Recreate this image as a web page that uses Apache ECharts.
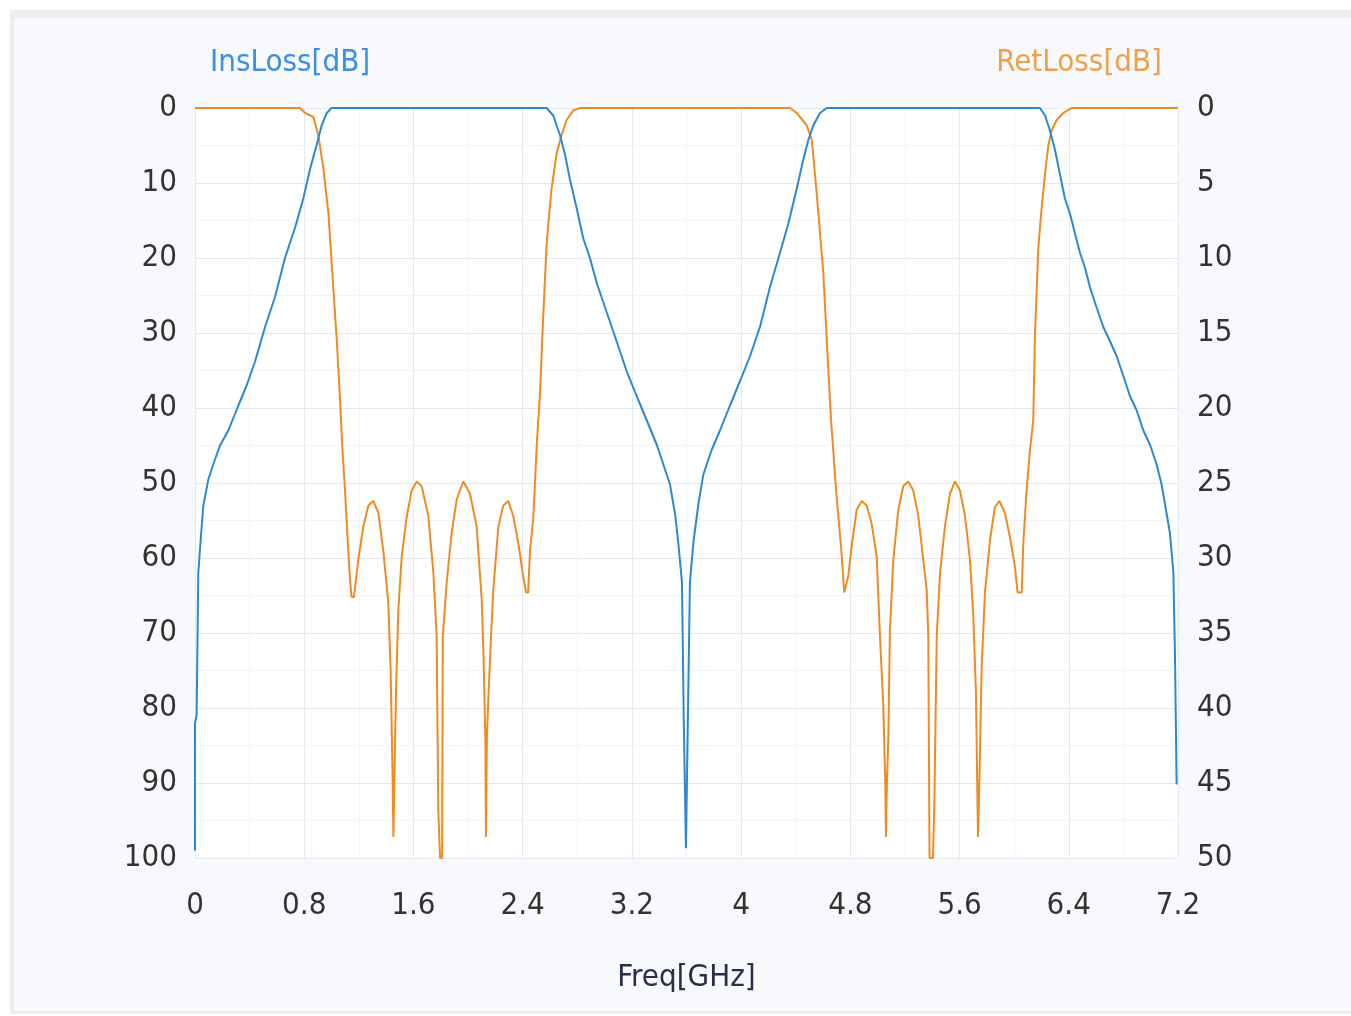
<!DOCTYPE html>
<html>
<head>
<meta charset="utf-8">
<script src="https://cdn.jsdelivr.net/npm/echarts@6/dist/echarts.min.js"></script>
<style>
html,body{margin:0;padding:0;background:#ffffff;}
#chart{width:1351px;height:1016px;}
</style>
</head>
<body>
<div id="chart"></div>
<script>
// Frequency axis ticks (GHz)
const xTicks = [0, 0.8, 1.6, 2.4, 3.2, 4, 4.8, 5.6, 6.4, 7.2];

// Insertion loss (left axis, dB)
const ilFreq = [0, 0, 0.012, 0.024, 0.044, 0.061, 0.098, 0.134, 0.183, 0.244, 0.317, 0.378, 0.44, 0.513, 0.586, 0.659, 0.732, 0.793, 0.842, 0.891, 0.928, 0.964, 1.0,
  2.576, 2.624, 2.673, 2.71, 2.746, 2.796, 2.844, 2.893, 2.942, 3.015, 3.088, 3.162, 3.235, 3.308, 3.382, 3.43, 3.479, 3.516, 3.54, 3.567, 3.58, 3.596, 3.61, 3.625, 3.65, 3.687, 3.723, 3.784, 3.845, 3.918, 3.992, 4.065, 4.138, 4.211, 4.285, 4.346, 4.407, 4.455, 4.492, 4.529, 4.578, 4.627,
  6.189, 6.226, 6.262, 6.299, 6.336, 6.372, 6.409, 6.445, 6.482, 6.519, 6.555, 6.604, 6.653, 6.702, 6.751, 6.799, 6.848, 6.897, 6.946, 6.995, 7.043, 7.08, 7.117, 7.141, 7.166, 7.178, 7.19];
const ilVals = [99, 82, 81, 62, 57, 53, 49.5, 47.5, 45, 43, 39.7, 37, 33.8, 29.2, 25.2, 20, 16, 12.1, 8.2, 4.9, 2.3, 0.7, 0,
  0, 1, 3.6, 6.2, 9.5, 13.4, 17.4, 20, 23.3, 27.2, 31.1, 35.1, 38.4, 41.6, 44.9, 47.5, 50.2, 54.1, 58, 63.3, 81.6, 98.7, 81.6, 63.3, 58, 52.8, 48.9, 45.6, 43, 39.7, 36.4, 33.1, 29.2, 23.9, 19.3, 15.4, 10.8, 6.9, 4.3, 2.3, 0.66, 0,
  0, 1, 3, 5.6, 8.9, 12.1, 14.1, 16.7, 19.3, 21.3, 23.9, 26.6, 29.2, 31.1, 33.1, 35.7, 38.4, 40.3, 43, 44.9, 47.5, 50.2, 54.1, 56.7, 61.9, 73.1, 90.2];

// Return loss (right axis, dB)
const rlFreq = [0, 0.77, 0.806, 0.867, 0.903, 0.94, 0.977, 1.013, 1.038, 1.062, 1.08, 1.099, 1.115, 1.135, 1.147, 1.164, 1.196, 1.233, 1.27, 1.306, 1.343, 1.379, 1.416, 1.433, 1.448, 1.453, 1.46, 1.472, 1.489, 1.514, 1.55, 1.587, 1.624, 1.66, 1.709, 1.746, 1.77, 1.782, 1.795, 1.81, 1.815, 1.843, 1.88, 1.917, 1.965, 2.014, 2.063, 2.1, 2.112, 2.127, 2.131, 2.138, 2.148, 2.166, 2.185, 2.222, 2.258, 2.295, 2.331, 2.368, 2.405, 2.425, 2.44, 2.454, 2.478, 2.503, 2.527, 2.55, 2.576, 2.61, 2.649, 2.686, 2.722, 2.771, 2.82,
  4.358, 4.407, 4.48, 4.517, 4.541, 4.566, 4.602, 4.639, 4.66, 4.675, 4.688, 4.712, 4.736, 4.755, 4.767, 4.785, 4.81, 4.846, 4.883, 4.92, 4.956, 4.993, 5.017, 5.041, 5.056, 5.061, 5.068, 5.078, 5.09, 5.115, 5.151, 5.188, 5.224, 5.261, 5.298, 5.334, 5.359, 5.371, 5.38, 5.405, 5.415, 5.433, 5.457, 5.493, 5.53, 5.567, 5.603, 5.64, 5.676, 5.701, 5.72, 5.735, 5.745, 5.762, 5.786, 5.823, 5.859, 5.891, 5.933, 5.969, 6.006, 6.025, 6.055, 6.067, 6.091, 6.116, 6.14, 6.152, 6.177, 6.201, 6.226, 6.25, 6.274, 6.311, 6.36, 6.421, 7.2];
const rlVals = [0, 0, 0.33, 0.6, 1.8, 4, 7, 12, 15.4, 19.4, 22.8, 25.5, 28.3, 31.4, 32.6, 32.6, 30.1, 27.9, 26.5, 26.2, 27, 29.5, 33, 37.5, 45, 48.6, 45, 39, 33.5, 29.9, 27.3, 25.5, 24.9, 25.2, 27.2, 31, 35.2, 46.8, 50, 50, 35.2, 31.7, 28.3, 26.1, 24.9, 25.7, 27.9, 32.8, 36.1, 42.1, 48.6, 42, 39.5, 35.7, 32.1, 27.9, 26.5, 26.2, 27.2, 29, 31.3, 32.3, 32.3, 29.5, 27.3, 22.5, 19, 14, 9, 5.5, 3, 1.8, 0.8, 0.16, 0,
  0, 0.33, 1.15, 2.1, 4.4, 7, 11, 17.5, 21, 22.8, 24.6, 27.2, 29.7, 32.3, 32.3, 31.2, 29.2, 26.8, 26.2, 26.5, 27.7, 29.9, 35.2, 39.7, 45, 48.6, 45, 42.1, 34.8, 30.1, 26.8, 25.2, 24.9, 25.5, 27.2, 30.1, 32.1, 35.2, 50, 50, 46.6, 35.2, 31, 27.9, 25.7, 24.9, 25.5, 27.2, 30.1, 33.9, 39, 48.6, 45, 37.2, 32.3, 28.8, 26.6, 26.2, 27, 28.6, 30.6, 32.3, 32.3, 29, 25.5, 22.8, 20.8, 15.2, 9.3, 6.7, 4.4, 2.5, 1.5, 0.8, 0.33, 0, 0];

const seriesNames = ['InsLoss[dB]', 'RetLoss[dB]'];
const xName = 'Freq[GHz]';

const ilData = ilFreq.map((f, i) => [f, ilVals[i]]);
const rlData = rlFreq.map((f, i) => [f, rlVals[i]]);

const FONT = "'DejaVu Sans Condensed', 'DejaVu Sans', sans-serif";
const BLUE = '#2f87d0';
const ORANGE = '#ee8c22';

const chart = echarts.init(document.getElementById('chart'), null, {renderer: 'canvas'});
chart.setOption({
  animation: false,
  backgroundColor: '#ffffff',
  graphic: [
    {type: 'rect', z: -10, shape: {x: 10, y: 10, width: 1345, height: 1004}, style: {fill: '#eceef1'}},
    {type: 'rect', z: -9, shape: {x: 14, y: 18, width: 1340, height: 993}, style: {fill: '#f7f9fc'}}
  ],
  grid: {left: 195, right: 173, top: 108, bottom: 158, show: true, backgroundColor: '#ffffff', borderWidth: 0},
  xAxis: {
    type: 'value', min: 0, max: 7.2, interval: 0.8,
    name: xName, nameLocation: 'middle', nameGap: 120,
    nameTextStyle: {fontFamily: FONT, fontSize: 31, color: '#2b2d4a', verticalAlign: 'middle'},
    axisLine: {show: false}, axisTick: {show: false},
    axisLabel: {margin: 32, fontFamily: FONT, fontSize: 31, color: '#333333',
      formatter: v => { const t = xTicks.find(x => Math.abs(x - v) < 1e-6); return t === undefined ? '' : String(t); }},
    splitLine: {show: true, lineStyle: {color: '#e3e9f1', width: 1}},
    minorTick: {show: false, splitNumber: 2},
    minorSplitLine: {show: true, lineStyle: {color: '#f1f4f8', width: 1}}
  },
  yAxis: [
    {
      type: 'value', min: 0, max: 100, interval: 10, inverse: true, position: 'left',
      name: seriesNames[0], nameLocation: 'start', nameGap: 45,
      nameTextStyle: {fontFamily: FONT, fontSize: 31, color: '#3d8fe0', align: 'left', verticalAlign: 'middle', padding: [0, 0, 0, 15]},
      axisLine: {show: false}, axisTick: {show: false},
      axisLabel: {margin: 18, fontFamily: FONT, fontSize: 31, color: '#333333'},
      splitLine: {show: true, lineStyle: {color: '#e3e9f1', width: 1}},
      minorTick: {show: false, splitNumber: 2},
      minorSplitLine: {show: true, lineStyle: {color: '#f1f4f8', width: 1}}
    },
    {
      type: 'value', min: 0, max: 50, interval: 5, inverse: true, position: 'right',
      name: seriesNames[1], nameLocation: 'start', nameGap: 45,
      nameTextStyle: {fontFamily: FONT, fontSize: 31, color: '#f0a04c', align: 'right', verticalAlign: 'middle', padding: [0, 16, 0, 0]},
      axisLine: {show: false}, axisTick: {show: false},
      axisLabel: {margin: 19, fontFamily: FONT, fontSize: 31, color: '#333333'},
      splitLine: {show: false}
    }
  ],
  series: [
    {name: seriesNames[0], type: 'line', yAxisIndex: 0, data: ilData, showSymbol: false,
     lineStyle: {color: BLUE, width: 2}, itemStyle: {color: BLUE}, z: 3},
    {name: seriesNames[1], type: 'line', yAxisIndex: 1, data: rlData, showSymbol: false,
     lineStyle: {color: ORANGE, width: 2}, itemStyle: {color: ORANGE}, z: 2}
  ]
});
</script>
</body>
</html>
